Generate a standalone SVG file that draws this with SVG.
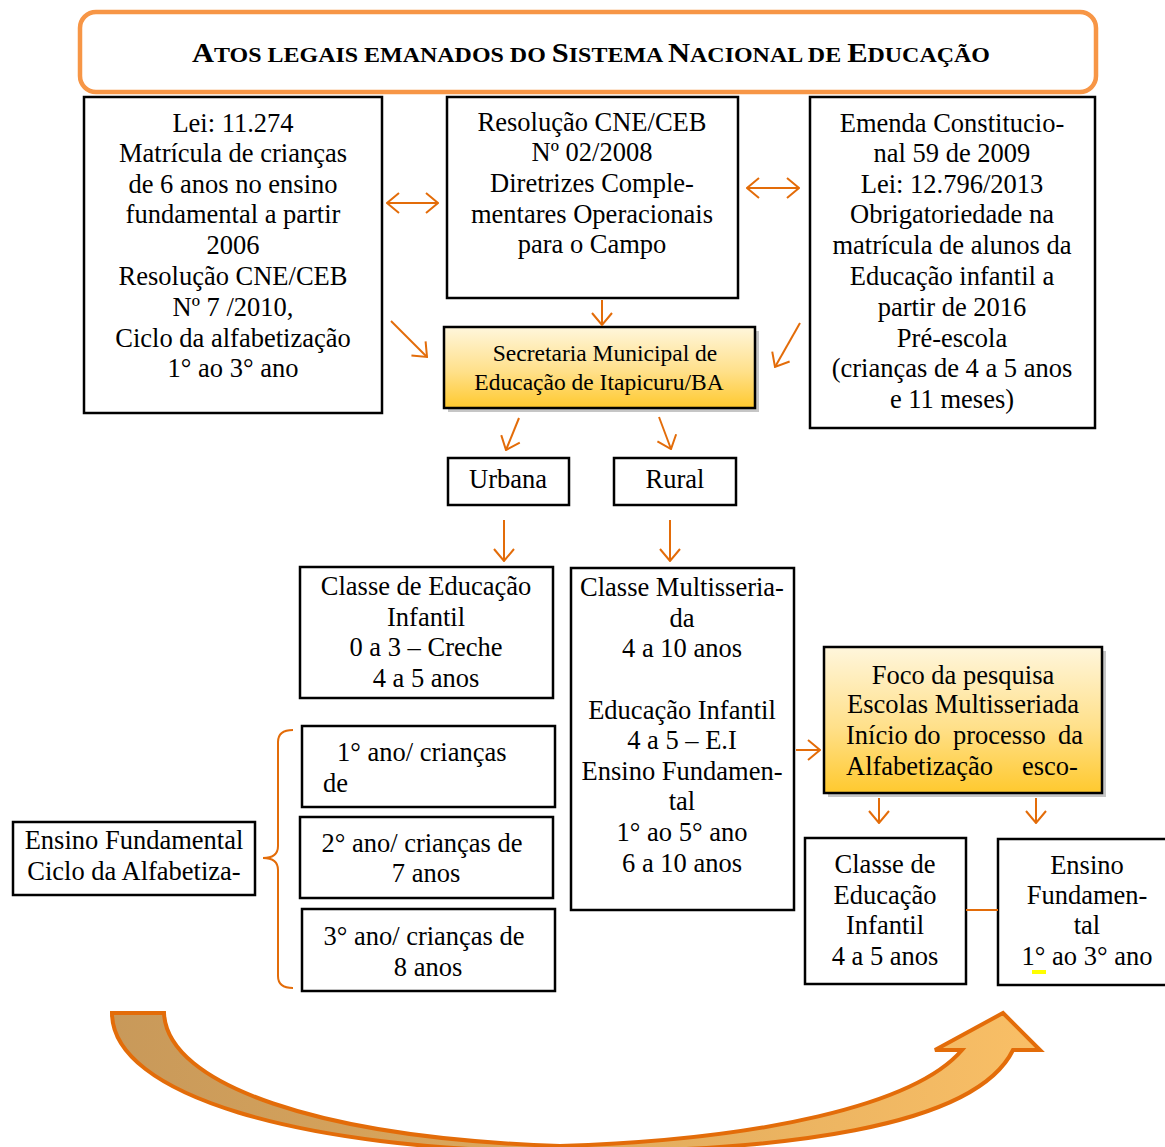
<svg xmlns="http://www.w3.org/2000/svg" width="1165" height="1147" viewBox="0 0 1165 1147">
<style>
  .box { fill: #fff; stroke: #000; stroke-width: 2.5; }
  .gbox { fill: url(#gold); stroke: #000; stroke-width: 2.5; }
  .shadow { fill: #a0a0a0; opacity: 0.6; }
  .t { font-family: "Liberation Serif", "Times New Roman", serif; font-size: 26.5px; fill: #000; text-anchor: middle; }
  .ts { font-family: "Liberation Serif", "Times New Roman", serif; font-size: 23.5px; fill: #000; text-anchor: middle; }
  .tl { font-family: "Liberation Serif", "Times New Roman", serif; font-size: 26.5px; fill: #000; text-anchor: start; }
  .title { font-family: "Liberation Serif", "Times New Roman", serif; font-weight: bold; fill: #000; }
  .conn { stroke: #E36C09; stroke-width: 2; fill: none; }
</style>
<defs>
  <linearGradient id="gold" x1="0" y1="0" x2="0" y2="1">
    <stop offset="0" stop-color="#FFF6DC"/>
    <stop offset="0.55" stop-color="#FFE08A"/>
    <stop offset="1" stop-color="#FFC92E"/>
  </linearGradient>
  <linearGradient id="band" x1="0" y1="0" x2="1" y2="0">
    <stop offset="0" stop-color="#C8995A"/>
    <stop offset="0.45" stop-color="#DDA85C"/>
    <stop offset="1" stop-color="#F9BF66"/>
  </linearGradient>
  <marker id="ah" viewBox="0 0 14 22" refX="13" refY="11" markerWidth="14" markerHeight="22" markerUnits="userSpaceOnUse" orient="auto-start-reverse">
    <path d="M1,1 L13,11 L1,21" fill="none" stroke="#E36C09" stroke-width="2"/>
  </marker>
</defs>

<g id="title">
  <rect x="80" y="12" width="1016" height="80" rx="16" ry="16" fill="#fff" stroke="#F79646" stroke-width="4.5"/>
  <text class="title" x="192" y="62" textLength="798" lengthAdjust="spacingAndGlyphs"><tspan font-size="28">A</tspan><tspan font-size="22">TOS LEGAIS EMANADOS DO </tspan><tspan font-size="28">S</tspan><tspan font-size="22">ISTEMA </tspan><tspan font-size="28">N</tspan><tspan font-size="22">ACIONAL DE </tspan><tspan font-size="28">E</tspan><tspan font-size="22">DUCAÇÃO</tspan></text>
</g>

<g id="lei11274">
  <rect class="box" x="84" y="97" width="298" height="316"/>
  <text class="t" x="233" y="132">Lei: 11.274</text>
  <text class="t" x="233" y="162">Matrícula de crianças</text>
  <text class="t" x="233" y="193">de 6 anos no ensino</text>
  <text class="t" x="233" y="223">fundamental a partir</text>
  <text class="t" x="233" y="254">2006</text>
  <text class="t" x="233" y="285">Resolução CNE/CEB</text>
  <text class="t" x="233" y="316">Nº 7 /2010,</text>
  <text class="t" x="233" y="347">Ciclo da alfabetização</text>
  <text class="t" x="233" y="377">1° ao 3° ano</text>
</g>

<g id="resolucao">
  <rect class="box" x="447" y="97" width="291" height="201"/>
  <text class="t" x="592" y="131">Resolução CNE/CEB</text>
  <text class="t" x="592" y="161">Nº 02/2008</text>
  <text class="t" x="592" y="192">Diretrizes Comple-</text>
  <text class="t" x="592" y="223">mentares Operacionais</text>
  <text class="t" x="592" y="253">para o Campo</text>
</g>

<g id="emenda">
  <rect class="box" x="810" y="97" width="285" height="331"/>
  <text class="t" x="952" y="132">Emenda Constitucio-</text>
  <text class="t" x="952" y="162">nal 59 de 2009</text>
  <text class="t" x="952" y="193">Lei: 12.796/2013</text>
  <text class="t" x="952" y="223">Obrigatoriedade na</text>
  <text class="t" x="952" y="254">matrícula de alunos da</text>
  <text class="t" x="952" y="285">Educação infantil a</text>
  <text class="t" x="952" y="316">partir de 2016</text>
  <text class="t" x="952" y="347">Pré-escola</text>
  <text class="t" x="952" y="377">(crianças de 4 a 5 anos</text>
  <text class="t" x="952" y="408">e 11 meses)</text>
</g>

<g id="secretaria">
  <rect class="shadow" x="448" y="331" width="311" height="81"/>
  <rect class="gbox" x="444" y="327" width="311" height="81"/>
  <text class="ts" x="605" y="361">Secretaria Municipal de</text>
  <text class="ts" x="599" y="390">Educação de Itapicuru/BA</text>
</g>

<g id="urbana">
  <rect class="box" x="448" y="458" width="121" height="47"/>
  <text class="t" x="508" y="488">Urbana</text>
</g>

<g id="rural">
  <rect class="box" x="614" y="458" width="122" height="47"/>
  <text class="t" x="675" y="488">Rural</text>
</g>

<g id="classeInfantil">
  <rect class="box" x="300" y="567" width="253" height="131"/>
  <text class="t" x="426" y="595">Classe de Educação</text>
  <text class="t" x="426" y="626">Infantil</text>
  <text class="t" x="426" y="656">0 a 3 – Creche</text>
  <text class="t" x="426" y="687">4 a 5 anos</text>
</g>

<g id="multisseriada">
  <rect class="box" x="571" y="568" width="223" height="342"/>
  <text class="t" x="682" y="596">Classe Multisseria-</text>
  <text class="t" x="682" y="627">da</text>
  <text class="t" x="682" y="657">4 a 10 anos</text>
  <text class="t" x="682" y="719">Educação Infantil</text>
  <text class="t" x="682" y="749">4 a 5 – E.I</text>
  <text class="t" x="682" y="780">Ensino Fundamen-</text>
  <text class="t" x="682" y="810">tal</text>
  <text class="t" x="682" y="841">1° ao 5° ano</text>
  <text class="t" x="682" y="872">6 a 10 anos</text>
</g>

<g id="foco">
  <rect class="shadow" x="828" y="651" width="278" height="146"/>
  <rect class="gbox" x="824" y="647" width="278" height="146"/>
  <text class="t" x="963" y="684">Foco da pesquisa</text>
  <text class="t" x="963" y="713">Escolas Multisseriada</text>
  <text class="tl" y="744"><tspan x="846">Início</tspan><tspan x="914">do</tspan><tspan x="953">processo</tspan><tspan x="1058">da</tspan></text>
  <text class="tl" y="775"><tspan x="846">Alfabetização</tspan><tspan x="1022">esco-</tspan></text>
</g>

<g id="infantil45">
  <rect class="box" x="805" y="838" width="161" height="146"/>
  <text class="t" x="885" y="873">Classe de</text>
  <text class="t" x="885" y="904">Educação</text>
  <text class="t" x="885" y="934">Infantil</text>
  <text class="t" x="885" y="965">4 a 5 anos</text>
</g>

<g id="fundamental13">
  <rect class="box" x="998" y="839" width="170" height="146"/>
  <rect x="1032" y="970" width="14" height="4" fill="#FFFF00"/>
  <text class="t" x="1087" y="874">Ensino</text>
  <text class="t" x="1087" y="904">Fundamen-</text>
  <text class="t" x="1087" y="934">tal</text>
  <text class="t" x="1087" y="965">1° ao 3° ano</text>
</g>

<g id="ano1">
  <rect class="box" x="302" y="726" width="253" height="81"/>
  <text class="tl" x="337" y="761">1° ano/ crianças</text>
  <text class="tl" x="323" y="792">de</text>
</g>

<g id="ano2">
  <rect class="box" x="300" y="817" width="253" height="81"/>
  <text class="t" x="422" y="852">2° ano/ crianças de</text>
  <text class="t" x="426" y="882">7 anos</text>
</g>

<g id="ano3">
  <rect class="box" x="302" y="909" width="253" height="82"/>
  <text class="t" x="424" y="945">3° ano/ crianças de</text>
  <text class="t" x="428" y="976">8 anos</text>
</g>

<g id="ensinoCiclo">
  <rect class="box" x="13" y="822" width="242" height="73"/>
  <text class="t" x="134" y="849">Ensino Fundamental</text>
  <text class="t" x="134" y="880">Ciclo da Alfabetiza-</text>
</g>

<g id="connectors">
  <line class="conn" x1="387" y1="203" x2="438" y2="203" marker-start="url(#ah)" marker-end="url(#ah)"/>
  <line class="conn" x1="747" y1="188" x2="799" y2="188" marker-start="url(#ah)" marker-end="url(#ah)"/>
  <line class="conn" x1="602" y1="300" x2="602" y2="325" marker-end="url(#ah)"/>
  <line class="conn" x1="391" y1="321" x2="427" y2="357" marker-end="url(#ah)"/>
  <line class="conn" x1="800" y1="323" x2="775" y2="367" marker-end="url(#ah)"/>
  <line class="conn" x1="519" y1="418" x2="506" y2="450" marker-end="url(#ah)"/>
  <line class="conn" x1="659" y1="417" x2="671" y2="449" marker-end="url(#ah)"/>
  <line class="conn" x1="504" y1="520" x2="504" y2="561" marker-end="url(#ah)"/>
  <line class="conn" x1="670" y1="520" x2="670" y2="561" marker-end="url(#ah)"/>
  <line class="conn" x1="796" y1="750" x2="820" y2="750" marker-end="url(#ah)"/>
  <line class="conn" x1="879" y1="798" x2="879" y2="823" marker-end="url(#ah)"/>
  <line class="conn" x1="1036" y1="798" x2="1036" y2="823" marker-end="url(#ah)"/>
  <line class="conn" x1="966" y1="910" x2="998" y2="910" stroke-width="2.5"/>
  <path class="conn" d="M293,730 Q278,730 278,742 L278,846 Q278,858 263,858 Q278,858 278,870 L278,976 Q278,988 293,988"/>
  <path d="M112,1013 L164,1013 C167,1085 320,1138 560,1146 C760,1140 915,1105 962,1050 L935,1050 L1003,1013 L1040,1050 L1013,1050 C975,1128 780,1152 560,1152 C300,1150 112,1095 112,1013 Z" fill="url(#band)" stroke="#E36C09" stroke-width="4" stroke-linejoin="miter"/>
</g>
</svg>
